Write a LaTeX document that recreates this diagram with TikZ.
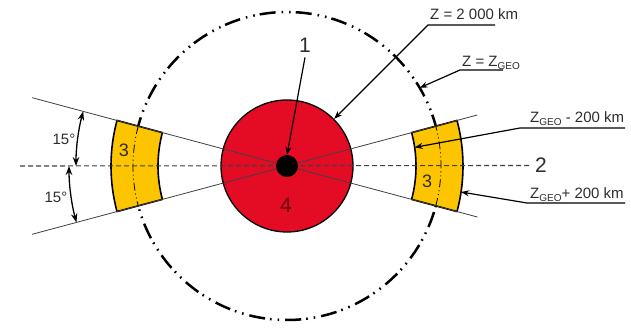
\documentclass[tikz,border=0pt]{standalone}
\usepackage{fontspec}
\setmainfont{Liberation Sans}
\usetikzlibrary{
    arrows.meta,
    positioning
}
\definecolor{Cearth}{RGB}{228, 12, 36}
\definecolor{Cband}{RGB}{253, 196, 0}
\definecolor{Ctext}{RGB}{45, 45, 45}
\newcommand{\zgeo}{Z\raisebox{-0.35ex}{\fontsize{10}{10}\selectfont GEO}}
\tikzset{
    orbit/.style={line width=2.5pt, dash pattern=on 16pt off 5pt on 1.6pt off 6pt on 1.6pt off 6pt},
    orbitin/.style={line width=0.8pt, dash pattern=on 8pt off 3pt on 1pt off 3pt on 1pt off 3pt},
    band/.style={fill=Cband, draw=black, line width=1.6pt, line join=round},
    earth/.style={circle, fill=Cearth, draw=black, line width=1.3pt, minimum size=132pt, inner sep=0pt},
    core/.style={circle, fill=black, minimum size=22pt, inner sep=0pt},
    axisln/.style={line width=1.1pt, black!75, dash pattern=on 5pt off 3pt},
    ray/.style={line width=0.8pt, black!75},
    lbl/.style={font=\fontsize{15}{18}\selectfont, text=Ctext, inner sep=0pt},
    num/.style={font=\fontsize{21}{24}\selectfont, text=Ctext, inner sep=0pt},
    carr/.style={-{Stealth[length=8pt, width=6pt]}, line width=1.2pt, black},
    dimarr/.style={{Stealth[length=9pt, width=6.5pt]}-{Stealth[length=9pt, width=6.5pt]}, line width=1.3pt, black},
}

\begin{document}
\begin{tikzpicture}[x=1pt, y=1pt]
    \useasboundingbox (0,0) rectangle (631,328);
    \coordinate (c) at (287,162);

    % ── orbit and the two bands ──────────────────────────
    \draw [orbit] (c) circle (154);
    \draw [band] ([shift={(-15:129)}]c) arc[start angle=-15, end angle=15, radius=129]
        -- ([shift={(15:176)}]c) arc[start angle=15, end angle=-15, radius=176] -- cycle;
    \draw [band] ([shift={(165:129)}]c) arc[start angle=165, end angle=195, radius=129]
        -- ([shift={(195:176)}]c) arc[start angle=195, end angle=165, radius=176] -- cycle;
    \draw [orbitin] ([shift={(-15:154)}]c) arc[start angle=-15, end angle=15, radius=154];
    \draw [orbitin] ([shift={(165:154)}]c) arc[start angle=165, end angle=195, radius=154];

    % ── earth, axis and rays ─────────────────────────────
    \node [earth] (earth) at (c) {};
    \coordinate (axL) at (20,162);
    \node [num, anchor=west] (n2) at (535,162.5) {2};
    \draw [axisln] (axL) -- ([xshift=-6pt]n2.west);
    \draw [ray] ([shift={(165:264)}]c) -- ([shift={(-15:197)}]c);
    \draw [ray] ([shift={(195:264)}]c) -- ([shift={(15:197)}]c);
    \node [core] (core) at (c) {};

    % ── numbers ──────────────────────────────────────────
    \node [num] (n1) at (305,283) {1};
    \node [num, font=\fontsize{18}{20}\selectfont] (n3l) at (124,178) {3};
    \node [num, font=\fontsize{18}{20}\selectfont] (n3r) at (427,147) {3};
    \node [num, text=Cearth!45!black] (n4) at (286,123) {4};
    \draw [carr] ([yshift=-5pt]n1.south) -- (core.north);

    % ── angles ───────────────────────────────────────────
    \draw [dimarr] ([shift={(165:211)}]c) arc[start angle=165, end angle=180, radius=211];
    \draw [dimarr] ([shift={(180:218)}]c) arc[start angle=180, end angle=195, radius=218];
    \node [lbl] (a1) at (64,189) {15°};
    \node [lbl] (a2) at (56,131) {15°};

    % ── leaders ──────────────────────────────────────────
    \node [lbl, anchor=base west] (zkm) at (430,308) {Z = 2 000 km};
    \coordinate (zkmL) at (428,303);
    \coordinate (zkmR) at (495,303);
    \draw [carr] (zkmR) -- (zkmL) -- (earth.45);

    \node [lbl, anchor=base west] (zgeo) at (462,261.5) {Z = \zgeo};
    \coordinate (zgeoL) at (460,258);
    \coordinate (zgeoR) at (503,258);
    \draw [carr] (zgeoR) -- (zgeoL) -- ([shift={(30.5:154)}]c);

    \node [lbl, anchor=base west] (zmin) at (530,205) {\zgeo\ - 200 km};
    \coordinate (zminL) at (520,200);
    \coordinate (zminR) at (625,200);
    \draw [carr] (zminR) -- (zminL) -- ([shift={(8.3:129)}]c);

    \node [lbl, anchor=base west] (zmax) at (530,129) {\zgeo+ 200 km};
    \coordinate (zmaxL) at (527,125);
    \coordinate (zmaxR) at (625,125);
    \draw [carr] (zmaxR) -- (zmaxL) -- ([shift={(-8.5:176)}]c);

\end{tikzpicture}
\end{document}
